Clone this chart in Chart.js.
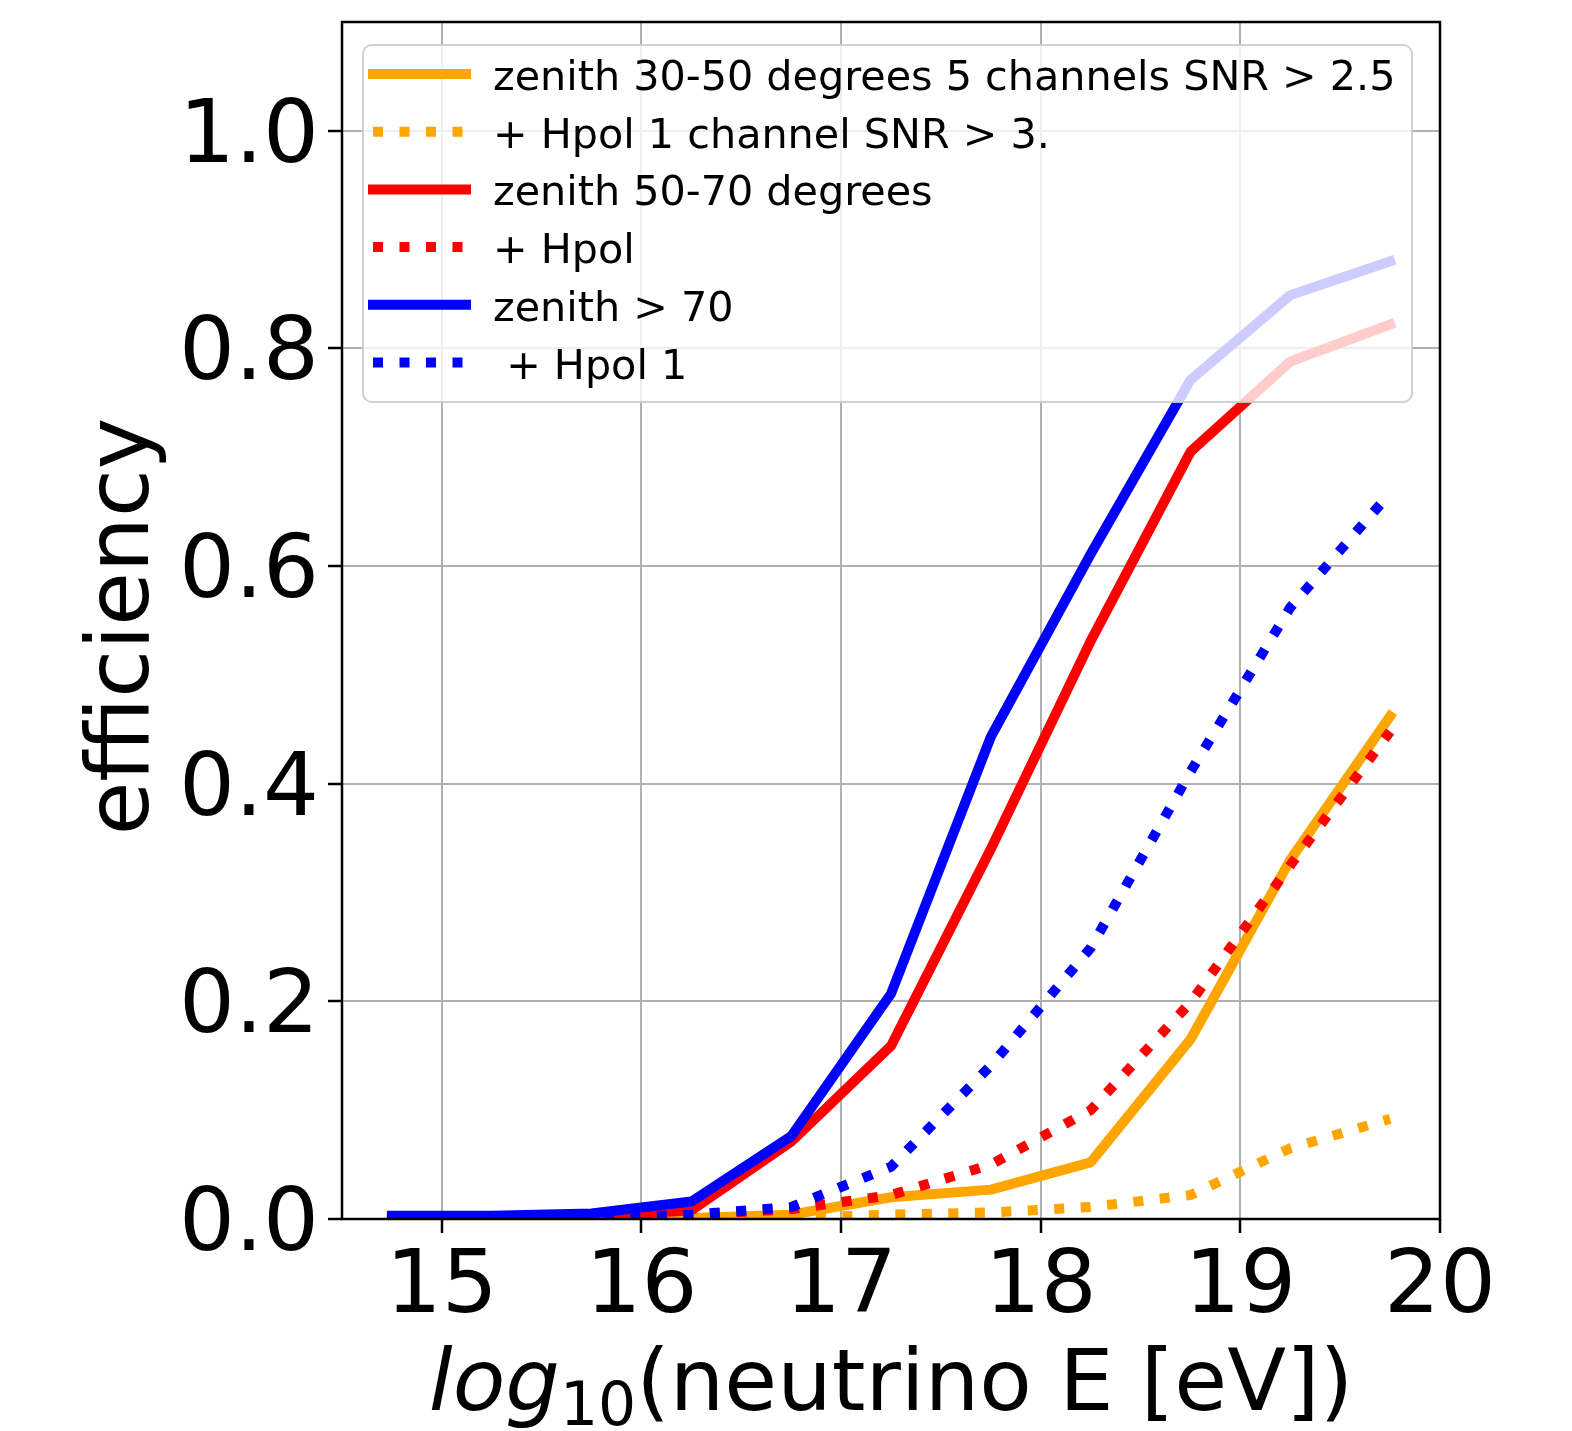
<!DOCTYPE html>
<html lang="en">
<head>
<meta charset="UTF-8">
<title>efficiency</title>
<script src="https://cdn.jsdelivr.net/npm/chart.js@4.4.0/dist/chart.umd.min.js"></script>
<style>
  body { margin: 0; background: #fff; }
</style>
</head>
<body>
<canvas id="myChart" width="1572" height="1431"></canvas>

<script>
// log10(E) bin centres
var energies = [14.75, 15.25, 15.75, 16.25, 16.75, 17.25, 17.75, 18.25, 18.75, 19.25, 19.75];

// efficiencies
var zen3050     = [0, 0, 0, 0.001, 0.004, 0.020, 0.027, 0.052, 0.165, 0.330, 0.462];
var zen3050Hpol = [0, 0, 0, 0, 0.001, 0.004, 0.006, 0.011, 0.022, 0.065, 0.092];
var zen5070     = [0.001, 0.001, 0.002, 0.008, 0.071, 0.159, 0.340, 0.531, 0.705, 0.788, 0.822];
var zen5070Hpol = [0, 0, 0.001, 0.004, 0.009, 0.022, 0.050, 0.100, 0.199, 0.325, 0.448];
var zen70       = [0.003, 0.003, 0.005, 0.016, 0.076, 0.207, 0.443, 0.611, 0.771, 0.849, 0.880];
var zen70Hpol   = [0, 0, 0.001, 0.004, 0.011, 0.048, 0.141, 0.249, 0.411, 0.562, 0.667];

var seriesLabels = [
  'zenith 30-50 degrees 5 channels SNR > 2.5',
  '+ Hpol 1 channel SNR > 3.',
  'zenith 50-70 degrees',
  '+ Hpol',
  'zenith > 70',
  ' + Hpol 1'
];

var xTicks = [15, 16, 17, 18, 19, 20];
var yTicks = [0, 0.2, 0.4, 0.6, 0.8, 1.0];

var FONT = '"DejaVu Sans", "Liberation Sans", sans-serif';

function pts(ys) {
  return energies.map(function (e, i) { return { x: e, y: ys[i] }; });
}

function series(label, ys, color, dotted, n) {
  return {
    label: label,
    data: pts(ys),
    borderColor: color,
    backgroundColor: color,
    borderWidth: 10,
    borderDash: dotted ? [10, 16.5] : [],
    borderCapStyle: dotted ? 'butt' : 'square',
    borderJoinStyle: 'round',
    pointRadius: 0,
    fill: false,
    tension: 0,
    order: n  // later series on top, like matplotlib
  };
}

// legend box drawn over the lines, semi transparent
var boxLegend = {
  id: 'boxLegend',
  afterDatasetsDraw: function (chart) {
    var ctx = chart.ctx;
    ctx.save();
    var x0 = 363, y0 = 45, w = 1049, h = 357, r = 9;
    ctx.beginPath();
    ctx.moveTo(x0 + r, y0);
    ctx.arcTo(x0 + w, y0, x0 + w, y0 + h, r);
    ctx.arcTo(x0 + w, y0 + h, x0, y0 + h, r);
    ctx.arcTo(x0, y0 + h, x0, y0, r);
    ctx.arcTo(x0, y0, x0 + w, y0, r);
    ctx.closePath();
    ctx.fillStyle = 'rgba(255,255,255,0.8)';
    ctx.fill();
    ctx.lineWidth = 2;
    ctx.strokeStyle = 'rgba(204,204,204,0.9)';
    ctx.stroke();

    chart.data.datasets.forEach(function (ds, i) {
      var yb = 90 + i * 57.7;
      var ly = yb - 16;
      ctx.beginPath();
      ctx.setLineDash(ds.borderDash);
      ctx.lineCap = ds.borderCapStyle;
      ctx.lineWidth = ds.borderWidth;
      ctx.strokeStyle = ds.borderColor;
      ctx.moveTo(373, ly);
      ctx.lineTo(466, ly);
      ctx.stroke();
      ctx.setLineDash([]);
      ctx.fillStyle = '#000';
      ctx.font = '41.3px ' + FONT;
      ctx.textAlign = 'left';
      ctx.textBaseline = 'alphabetic';
      ctx.fillText(ds.label, 493, yb);
    });
    ctx.restore();
  },
  afterDraw: function (chart) {
    var ctx = chart.ctx;
    var a = chart.chartArea;
    ctx.save();
    // spines
    ctx.strokeStyle = '#000';
    ctx.lineWidth = 2.5;
    ctx.lineCap = 'square';
    ctx.strokeRect(a.left, a.top, a.right - a.left, a.bottom - a.top);

    // y label
    ctx.fillStyle = '#000';
    ctx.font = '87px ' + FONT;
    ctx.textAlign = 'center';
    ctx.textBaseline = 'alphabetic';
    ctx.save();
    ctx.translate(148, (a.top + a.bottom) / 2 + 6);
    ctx.rotate(-Math.PI / 2);
    ctx.fillText('efficiency', 0, 0);
    ctx.restore();

    // x label: italic log, subscript 10
    var base = 1410;
    var fMain = '86px ' + FONT, fIt = 'italic 86px ' + FONT, fSub = '60px ' + FONT;
    ctx.textAlign = 'left';
    ctx.font = fIt;  var w1 = ctx.measureText('log').width;
    ctx.font = fSub; var w2 = ctx.measureText('10').width;
    ctx.font = fMain; var w3 = ctx.measureText('(neutrino E [eV])').width;
    var x = (a.left + a.right) / 2 - (w1 + w2 + w3) / 2;
    ctx.font = fIt;  ctx.fillText('log', x, base); x += w1;
    ctx.font = fSub; ctx.fillText('10', x, base + 15); x += w2;
    ctx.font = fMain; ctx.fillText('(neutrino E [eV])', x, base);
    ctx.restore();
  }
};

var ctx = document.getElementById('myChart').getContext('2d');
var graphData = {
  type: 'line',
  data: {
    datasets: [
      series(seriesLabels[0], zen3050, '#ffa500', false, 6),
      series(seriesLabels[1], zen3050Hpol, '#ffa500', true, 5),
      series(seriesLabels[2], zen5070, '#ff0000', false, 4),
      series(seriesLabels[3], zen5070Hpol, '#ff0000', true, 3),
      series(seriesLabels[4], zen70, '#0000ff', false, 2),
      series(seriesLabels[5], zen70Hpol, '#0000ff', true, 1)
    ]
  },
  options: {
    responsive: false,
    animation: false,
    layout: { padding: { top: 22, right: 132, left: 0, bottom: 0 } },
    plugins: {
      legend: { display: false },
      tooltip: { enabled: false }
    },
    scales: {
      x: {
        type: 'linear',
        min: 14.5,
        max: 20,
        afterBuildTicks: function (s) { s.ticks = xTicks.map(function (v) { return { value: v }; }); },
        afterFit: function (s) { s.height = 212; s.paddingLeft = 0; s.paddingRight = 0; },
        ticks: {
          font: { family: FONT, size: 88 },
          color: '#000',
          padding: 3,
          maxRotation: 0,
          autoSkip: false,
          callback: function (v) { return String(v); }
        },
        grid: { color: '#b0b0b0', lineWidth: 2, tickColor: '#000', tickLength: 14, tickWidth: 2.5 },
        border: { display: false }
      },
      y: {
        min: 0,
        max: 1.1,
        afterBuildTicks: function (s) { s.ticks = yTicks.map(function (v) { return { value: v }; }); },
        afterFit: function (s) { s.width = 342; s.paddingTop = 0; s.paddingBottom = 0; },
        ticks: {
          font: { family: FONT, size: 88 },
          color: '#000',
          padding: 9,
          labelOffset: 8,
          autoSkip: false,
          callback: function (v) { return Number(v).toFixed(1); }
        },
        grid: { color: '#b0b0b0', lineWidth: 2, tickColor: '#000', tickLength: 14, tickWidth: 2.5 },
        border: { display: false }
      }
    }
  },
  plugins: [boxLegend]
};

var myChart = new Chart(ctx, graphData);
</script>
</body>
</html>
